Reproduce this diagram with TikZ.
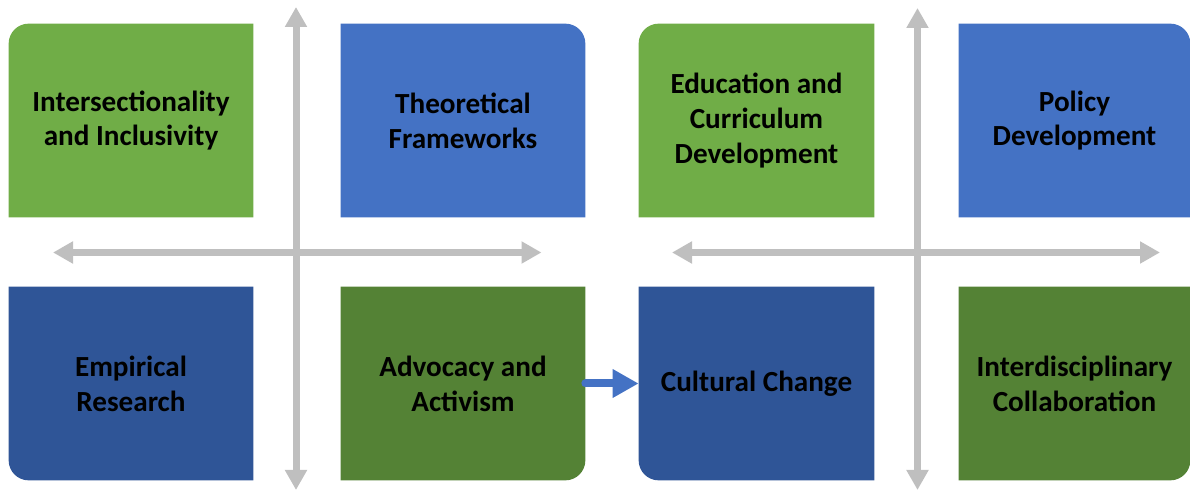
\documentclass[tikz,border=0pt]{standalone}
\usepackage{fontspec}
\setmainfont{Carlito}
\usepackage{xcolor}
\usepackage{tikz}
\usetikzlibrary{arrows.meta,backgrounds}

\definecolor{lgreen}{HTML}{70AD47}
\definecolor{lblue}{HTML}{4472C4}
\definecolor{dblue}{HTML}{2F5597}
\definecolor{dgreen}{HTML}{548235}
\definecolor{axisgray}{HTML}{BFBFBF}

\begin{document}
\begin{tikzpicture}
		\tikzstyle{every node}=[font=\bfseries\fontsize{16.6}{19.8}\selectfont, align=center]
		\tikzstyle{box}=[minimum width=4.88cm, minimum height=3.86cm, inner sep=0pt]
		\tikzstyle{nbox}=[box, minimum width=4.7cm]
		\tikzstyle{axis}=[draw=axisgray, line width=0.14cm, {Triangle[length=0.4cm,width=0.42cm]}-{Triangle[length=0.4cm,width=0.42cm]}]

		\useasboundingbox (0,0) rectangle (23.8,9.84);

		% left quadrants
		\node [box] (inter) at (2.62,7.43) {Intersectionality\\and Inclusivity};
		\node [box] (theo) at (9.26,7.43) {Theoretical\\Frameworks};
		\node [box] (emp) at (2.62,2.17) {Empirical\\Research};
		\node [box] (adv) at (9.26,2.17) {Advocacy and\\Activism};

		% right quadrants
		\node [nbox] (edu) at (15.13,7.43) {Education and\\Curriculum\\Development};
		\node [nbox, minimum width=4.62cm] (pol) at (21.49,7.43) {Policy\\Development};
		\node [nbox] (cult) at (15.13,2.17) {Cultural Change};
		\node [nbox, minimum width=4.62cm] (collab) at (21.49,2.17) {Interdisciplinary\\Collaboration};

		\begin{scope}[on background layer]
			\fill [lgreen] (inter.south west) -- ([yshift=-0.4cm]inter.north west) arc [start angle=180, end angle=90, radius=0.4cm] -- (inter.north east) -- (inter.south east) -- cycle;
			\fill [lblue] (theo.south west) -- (theo.north west) -- ([xshift=-0.4cm]theo.north east) arc [start angle=90, end angle=0, radius=0.4cm] -- (theo.south east) -- cycle;
			\fill [dblue] (emp.north west) -- ([yshift=0.4cm]emp.south west) arc [start angle=180, end angle=270, radius=0.4cm] -- (emp.south east) -- (emp.north east) -- cycle;
			\fill [dgreen] (adv.north west) -- (adv.south west) -- ([xshift=-0.4cm]adv.south east) arc [start angle=270, end angle=360, radius=0.4cm] -- (adv.north east) -- cycle;

			\fill [lgreen] (edu.south west) -- ([yshift=-0.4cm]edu.north west) arc [start angle=180, end angle=90, radius=0.4cm] -- (edu.north east) -- (edu.south east) -- cycle;
			\fill [lblue] (pol.south west) -- (pol.north west) -- ([xshift=-0.4cm]pol.north east) arc [start angle=90, end angle=0, radius=0.4cm] -- (pol.south east) -- cycle;
			\fill [dblue] (cult.north west) -- ([yshift=0.4cm]cult.south west) arc [start angle=180, end angle=270, radius=0.4cm] -- (cult.south east) -- (cult.north east) -- cycle;
			\fill [dgreen] (collab.north west) -- (collab.south west) -- ([xshift=-0.4cm]collab.south east) arc [start angle=270, end angle=360, radius=0.4cm] -- (collab.north east) -- cycle;
		\end{scope}

		% axes
		\coordinate (ltop) at (5.92,9.7);
		\coordinate (lbot) at (5.92,0.04);
		\coordinate (lleft) at (1.06,4.79);
		\coordinate (lright) at (10.83,4.79);
		\coordinate (rtop) at (18.35,9.68);
		\coordinate (rbot) at (18.35,0.04);
		\coordinate (rleft) at (13.44,4.79);
		\coordinate (rright) at (23.2,4.79);
		\draw [axis] (lbot) -- (ltop);
		\draw [axis] (lleft) -- (lright);
		\draw [axis] (rbot) -- (rtop);
		\draw [axis] (rleft) -- (rright);

		\draw [draw=lblue, line width=0.16cm, line cap=round, -{Triangle[length=0.52cm,width=0.54cm]}] (adv.east) -- (cult.west);

	\end{tikzpicture}
\end{document}
